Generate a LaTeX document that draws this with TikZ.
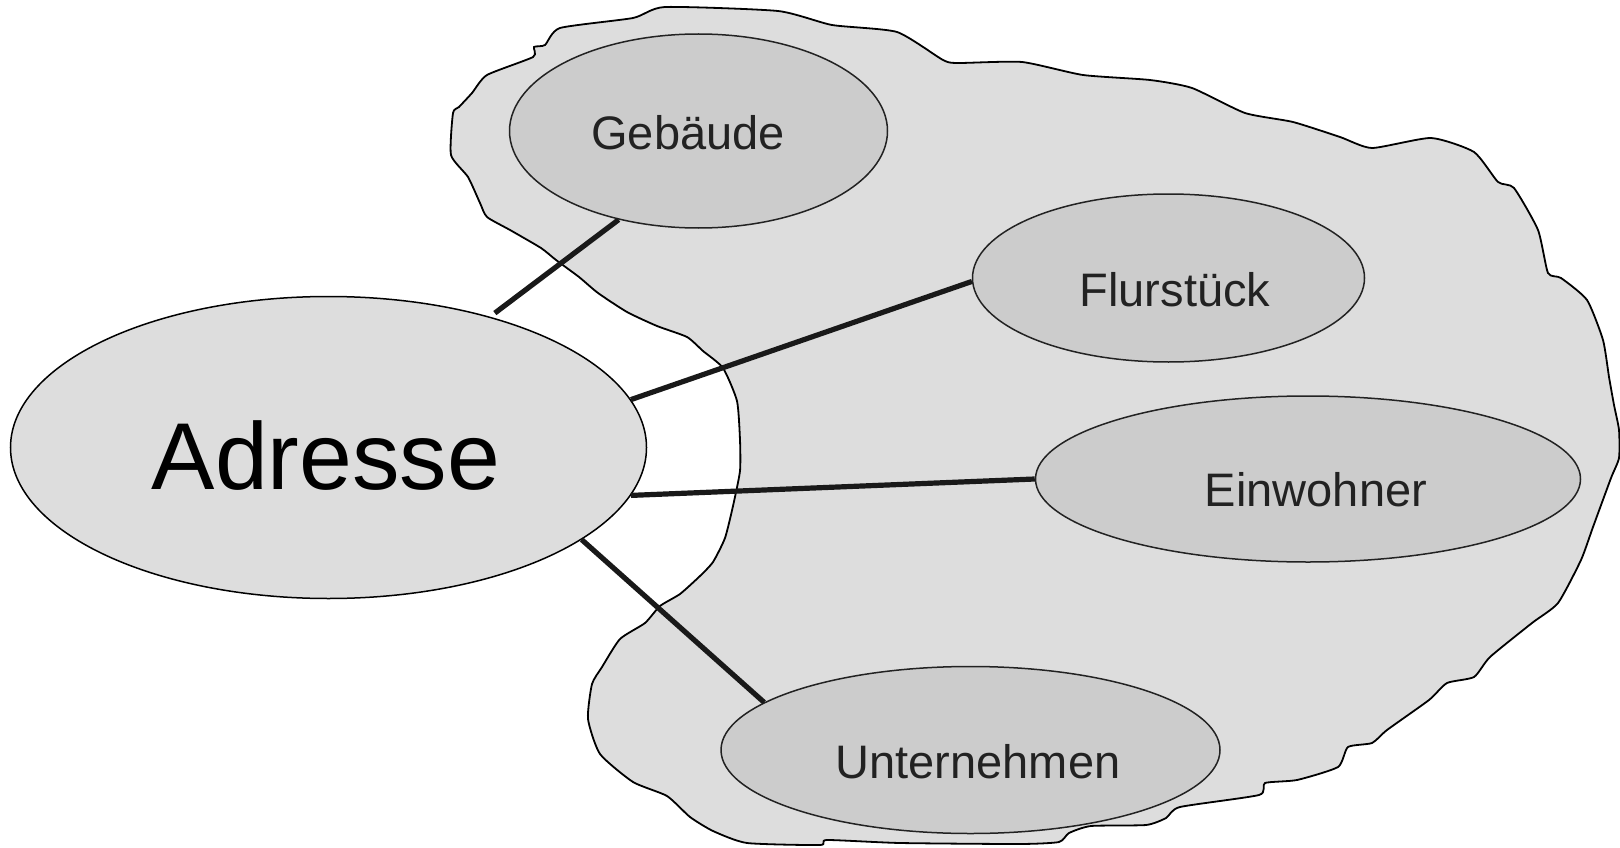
\documentclass[tikz,border=0pt]{standalone}
\usepackage{fontspec}
\setmainfont{Liberation Sans}
\usetikzlibrary{shapes.geometric}

\definecolor{areagray}{HTML}{DDDDDD}
\definecolor{partgray}{HTML}{CCCCCC}
\definecolor{inkgray}{HTML}{222222}

\begin{document}
\begin{tikzpicture}[
    x=1pt, y=-1pt,
    area/.style={draw=black, line width=1.8pt, fill=areagray},
    part/.style={ellipse, draw=inkgray, line width=1.5pt, fill=partgray, inner sep=0pt},
    addr/.style={ellipse, draw=black, line width=1.5pt, fill=areagray, inner sep=0pt},
    parttext/.style={text=inkgray, inner sep=0pt, font=\fontsize{47}{56}\selectfont},
    addrtext/.style={text=black, inner sep=0pt, font=\fontsize{95}{110}\selectfont},
    link/.style={draw=black!90, line width=5.2pt}
]
\useasboundingbox (0,0) rectangle (1620,848);

% hand-drawn region behind the parts
\draw[area] plot[smooth cycle, tension=0.35] coordinates {
    (451,155) (453,113) (459,107) (472,93) (487,75) (533,57) (534,47) (545,45)
    (560,28) (633,18) (665,7) (778,11) (832,25) (897,32) (943,60) (958,63)
    (1022,62) (1083,75) (1150,80) (1192,88) (1245,113) (1293,122) (1340,137)
    (1372,148) (1431,138) (1474,152) (1498,182) (1514,188) (1538,230) (1548,273)
    (1561,278) (1587,300) (1603,340) (1609,377) (1614,405) (1619,430) (1619,458)
    (1611,478) (1593,527) (1581,560) (1558,603) (1532,623) (1490,657) (1474,677)
    (1447,683) (1429,700) (1387,730) (1372,743) (1348,747) (1338,767) (1297,780)
    (1265,783) (1259,795) (1180,807) (1166,818) (1146,825) (1091,826) (1069,833)
    (1059,842) (1020,844) (900,843) (827,840) (820,845) (747,843) (713,831)
    (690,817) (667,796) (633,782) (600,754) (588,719) (592,684) (602,667)
    (620,639) (645,623) (660,606) (680,594) (700,576) (713,562) (725,538)
    (733,506) (740,471) (740,440) (737,401) (723,368) (703,351) (687,337)
    (657,326) (627,312) (598,293) (579,277) (556,260) (541,248) (510,230)
    (487,217) (480,203) (468,177)
};

% parts
\node[part, minimum width=378pt, minimum height=194pt] (gebaeude) at (698.5,131) {};
\node[part, minimum width=392pt, minimum height=168pt] (flurstueck) at (1168.5,278) {};
\node[part, minimum width=545pt, minimum height=166pt] (einwohner) at (1308,479) {};
\node[part, minimum width=499pt, minimum height=167pt] (unternehmen) at (970.5,750) {};

% Adresse: left
\node[addr, minimum width=636pt, minimum height=302pt] (adresse) at (328.5,447.5) {};

% connectors
\draw[link, shorten <=6pt] (adresse.39) -- (gebaeude.228);
\draw[link] (adresse.9) -- (flurstueck.181);
\draw[link] (adresse.-9) -- (einwohner.180);
\draw[link] (adresse.-20) -- (unternehmen.167);

% labels
\node[parttext] (gebaeude-txt) at (688,132.5) {Gebäude};
\node[parttext] (flurstueck-txt) at (1175,289.5) {Flurstück};
\node[parttext] (einwohner-txt) at (1316,490) {Einwohner};
\node[parttext] (unternehmen-txt) at (978,761.5) {Unternehmen};
\node[addrtext] (adresse-txt) at (326,456) {Adresse};

\end{tikzpicture}
\end{document}
